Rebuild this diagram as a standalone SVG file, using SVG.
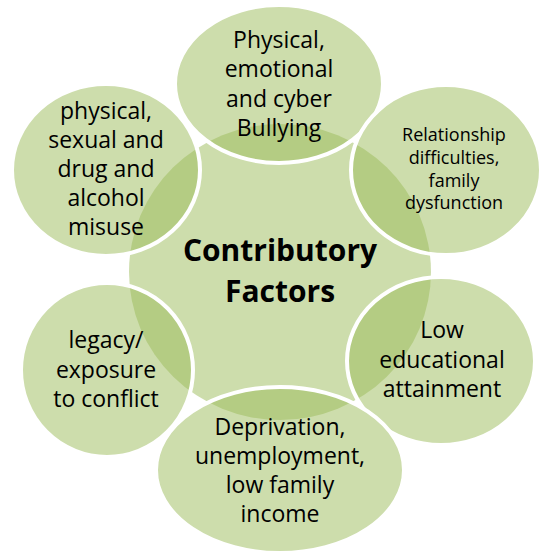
<svg xmlns="http://www.w3.org/2000/svg" width="542" height="552" viewBox="0 0 542 552">
<style>
.hub{fill:#9bbb59;fill-opacity:0.5;stroke:none}
.sat{fill:#9bbb59;fill-opacity:0.5;stroke:#ffffff;stroke-width:4}
.t{font-family:"Open Sans","Noto Sans",sans-serif;font-size:23px;fill:#000;text-anchor:middle}
.s{font-size:18px}
.h{font-family:"Open Sans","Noto Sans",sans-serif;font-size:30px;font-weight:700;fill:#000;text-anchor:middle}
</style>
<rect width="542" height="552" fill="#ffffff"/>
<g id="connectors"></g>
<g id="hub">
<ellipse class="hub" cx="280" cy="272" rx="151" ry="148"/>
</g>
<g id="n-bullying">
<ellipse class="sat" cx="279" cy="84" rx="104" ry="79"/>
<text class="t" x="279"><tspan x="279" y="48">Physical,</tspan><tspan x="279" y="77">emotional</tspan><tspan x="279" y="107">and cyber</tspan><tspan x="279" y="136">Bullying</tspan></text>
</g>
<g id="n-relationship">
<ellipse class="sat" cx="446" cy="170" rx="95" ry="85"/>
<text class="t s"><tspan x="454" y="141">Relationship</tspan><tspan x="454" y="164">difficulties,</tspan><tspan x="454" y="187">family</tspan><tspan x="454" y="209">dysfunction</tspan></text>
</g>
<g id="n-education">
<ellipse class="sat" cx="441" cy="361" rx="94" ry="84"/>
<text class="t"><tspan x="442" y="338">Low</tspan><tspan x="442" y="368">educational</tspan><tspan x="442" y="397">attainment</tspan></text>
</g>
<g id="n-deprivation">
<ellipse class="sat" cx="280" cy="470" rx="124" ry="83"/>
<text class="t"><tspan x="280" y="435">Deprivation,</tspan><tspan x="280" y="464">unemployment,</tspan><tspan x="280" y="493">low family</tspan><tspan x="280" y="522">income</tspan></text>
</g>
<g id="n-conflict">
<ellipse class="sat" cx="107" cy="370" rx="86" ry="87"/>
<text class="t"><tspan x="106" y="348">legacy/</tspan><tspan x="106" y="378">exposure</tspan><tspan x="106" y="407">to conflict</tspan></text>
</g>
<g id="n-misuse">
<ellipse class="sat" cx="106" cy="170" rx="94" ry="86"/>
<text class="t"><tspan x="106" y="119">physical,</tspan><tspan x="106" y="148">sexual and</tspan><tspan x="106" y="177">drug and</tspan><tspan x="106" y="206">alcohol</tspan><tspan x="106" y="235">misuse</tspan></text>
</g>
<g id="title">
<text class="h"><tspan x="280" y="261">Contributory</tspan><tspan x="280" y="302">Factors</tspan></text>
</g>
</svg>
